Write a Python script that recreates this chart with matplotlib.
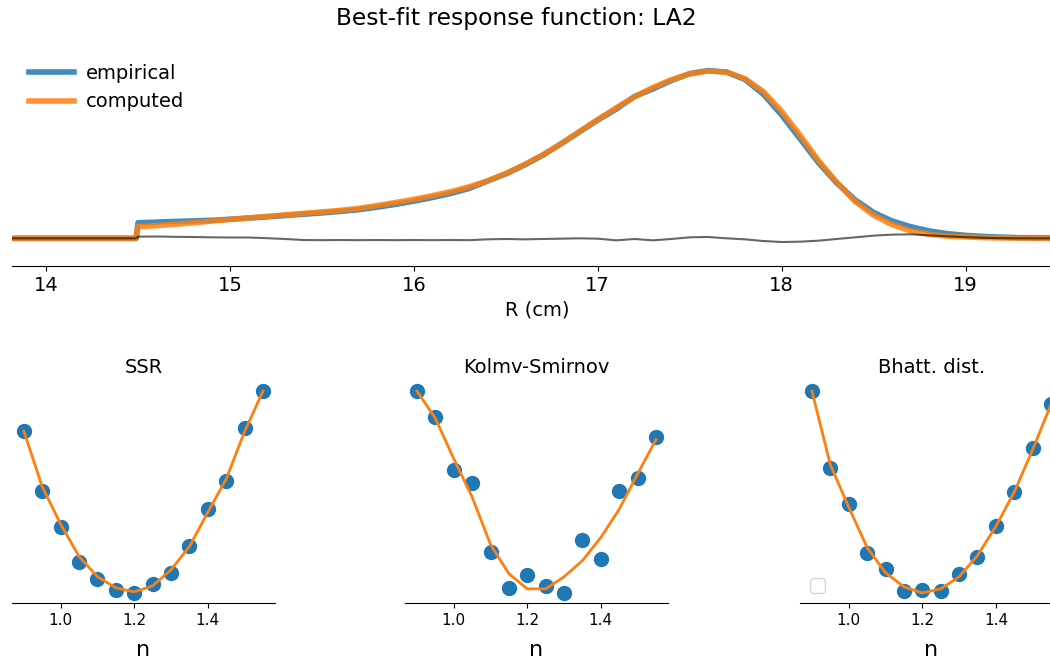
import numpy as np
import matplotlib
matplotlib.use("Agg")
import matplotlib.pyplot as plt

plt.rcParams['font.size'] = 14

# radial profile (R in cm), normalised so the peak is ~1
R = [13.8, 14.49, 14.5, 14.6, 14.7, 14.8, 14.9, 15.0, 15.1, 15.2, 15.3, 15.4,
     15.5, 15.6, 15.7, 15.8, 15.9, 16.0, 16.1, 16.2, 16.3, 16.4, 16.5, 16.6,
     16.7, 16.8, 16.9, 17.0, 17.1, 17.2, 17.3, 17.4, 17.5, 17.6, 17.7, 17.8,
     17.9, 18.0, 18.1, 18.2, 18.3, 18.4, 18.5, 18.6, 18.7, 18.8, 18.9, 19.0,
     19.1, 19.2, 19.3, 19.4, 19.55]
empirical = [0, 0, 0.093, 0.097, 0.101, 0.104, 0.108, 0.114, 0.121, 0.128,
             0.136, 0.144, 0.152, 0.161, 0.171, 0.186, 0.203, 0.222, 0.244,
             0.268, 0.298, 0.342, 0.385, 0.437, 0.496, 0.564, 0.636, 0.707,
             0.772, 0.848, 0.893, 0.943, 0.985, 1.003, 0.994, 0.950, 0.862,
             0.737, 0.595, 0.452, 0.330, 0.230, 0.155, 0.104, 0.070, 0.045,
             0.028, 0.018, 0.011, 0.007, 0.004, 0.003, 0.002]
computed = [0, 0, 0.069, 0.076, 0.084, 0.093, 0.103, 0.113, 0.122, 0.131,
            0.140, 0.149, 0.158, 0.167, 0.179, 0.196, 0.214, 0.233, 0.255,
            0.279, 0.308, 0.343, 0.388, 0.440, 0.498, 0.566, 0.638, 0.710,
            0.780, 0.846, 0.902, 0.948, 0.983, 1.000, 0.994, 0.955, 0.878,
            0.760, 0.617, 0.465, 0.335, 0.220, 0.138, 0.082, 0.045, 0.024,
            0.013, 0.008, 0.004, 0.002, 0.001, 0.0, 0.0]
resid = [0, 0, 0.010, 0.011, 0.009, 0.008, 0.006, 0.005, 0.005, 0.001,
         -0.004, -0.010, -0.011, -0.010, -0.011, -0.010, -0.011, -0.010,
         -0.011, -0.010, -0.011, -0.006, -0.004, -0.006, -0.004, -0.002,
         0.0, -0.002, -0.012, -0.004, -0.012, -0.004, 0.006, 0.008, 0.0,
         -0.006, -0.016, -0.022, -0.020, -0.014, -0.004, 0.006, 0.016,
         0.022, 0.024, 0.018, 0.012, 0.007, 0.003, 0.001, 0.0, 0.0, 0.0]

# goodness of fit vs. index n
n = [0.90, 0.95, 1.00, 1.05, 1.10, 1.15, 1.20, 1.25, 1.30, 1.35, 1.40, 1.45, 1.50, 1.55]
ssr = [1.70, 1.11, 0.75, 0.41, 0.24, 0.13, 0.10, 0.19, 0.30, 0.56, 0.93, 1.21, 1.73, 2.10]
ssr_fit = [1.70, 1.15, 0.78, 0.46, 0.26, 0.15, 0.11, 0.17, 0.33, 0.56, 0.90, 1.23, 1.70, 2.10]
ks = [2.10, 1.84, 1.32, 1.19, 0.51, 0.15, 0.28, 0.17, 0.10, 0.62, 0.44, 1.11, 1.24, 1.64]
ks_fit = [2.10, 1.83, 1.43, 1.05, 0.58, 0.29, 0.14, 0.14, 0.26, 0.42, 0.65, 0.93, 1.28, 1.62]
bhatt = [2.11, 1.35, 0.99, 0.51, 0.35, 0.13, 0.14, 0.13, 0.30, 0.47, 0.77, 1.11, 1.55, 1.98]
bhatt_fit = [2.11, 1.38, 0.96, 0.56, 0.31, 0.17, 0.11, 0.15, 0.27, 0.48, 0.77, 1.11, 1.53, 1.98]

titles = ['SSR', 'Kolmv-Smirnov', 'Bhatt. dist.']

fig = plt.figure(figsize=(10.5, 6.58), dpi=100)

# top panel
ax = fig.add_axes([0.0114, 0.5957, 1.001, 0.354])
ax.plot(R, empirical, color='C0', lw=4, alpha=0.85, label='empirical')
ax.plot(R, computed, color='C1', lw=4, alpha=0.85, label='computed')
ax.plot(R, resid, color='k', lw=1.5, alpha=0.6)
ax.set_xlim(13.815, 19.53)
ax.set_ylim(-0.1656, 1.227)
ax.set_yticks([])
for s in ['left', 'right', 'top']:
    ax.spines[s].set_visible(False)
ax.set_xlabel('R (cm)')
ax.set_title('Best-fit response function: LA2', fontsize='large', x=0.48)
ax.legend(loc='upper left', bbox_to_anchor=(0, 0.944), frameon=False,
          handlelength=2.3, handletextpad=0.6)

# bottom panels
lefts = [0.0114, 0.3857, 0.7619]
data = [(ssr, ssr_fit), (ks, ks_fit), (bhatt, bhatt_fit)]
for i in range(3):
    a = fig.add_axes([lefts[i], 0.0836, 0.2505, 0.3374])
    pts, fit = data[i]
    a.plot(n, pts, 'o', color='C0', ms=10)
    a.plot(n, fit, color='C1', lw=2)
    a.set_yticks([])
    a.set_xticks([1.0, 1.2, 1.4])
    a.tick_params(axis='x', labelsize=11)
    for s in ['left', 'right', 'top']:
        a.spines[s].set_visible(False)
    a.set_title(titles[i], fontsize=14)
    a.set_xlabel('n', fontsize=16, labelpad=9)
    if i == 2:
        a.legend(handles=[], loc='lower left')

fig.savefig('out.png', dpi=100)
